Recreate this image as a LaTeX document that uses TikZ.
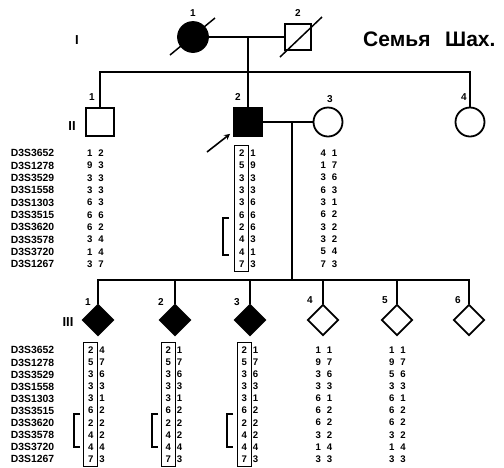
\documentclass[tikz,border=0pt]{standalone}
\usepackage{fontspec}
\setmainfont{Liberation Sans}
\usetikzlibrary{shapes.geometric,calc}
\newcommand{\al}[2]{#1\hspace{6pt}#2}
\begin{document}
\begin{tikzpicture}[x=1pt,y=-1pt,line width=1.8pt,
  male/.style={draw,rectangle,minimum size=28pt,inner sep=0pt},
  female/.style={draw,circle,minimum size=29pt,inner sep=0pt},
  sexunk/.style={draw,diamond,minimum size=31pt,inner sep=0pt},
  affected/.style={fill=black},
  gen/.style={font=\bfseries\fontsize{13}{13}\selectfont},
  num/.style={font=\bfseries\fontsize{10}{10}\selectfont},
  hap/.style={anchor=north,align=center,inner xsep=0pt,inner ysep=3pt,font=\bfseries\fontsize{9.6}{#1}\selectfont,execute at begin node={\rule{0pt}{7.2pt}}},
  markers/.style={anchor=north west,align=left,inner xsep=0pt,inner ysep=3pt,font=\bfseries\fontsize{10.4}{#1}\selectfont,execute at begin node={\rule{0pt}{7.2pt}}},
  hapbox/.style={line width=1.1pt},
  bracket/.style={line width=1.3pt},
  slash/.style={line width=1.5pt}]
\useasboundingbox (0,0) rectangle (504,467);
\node[anchor=west,font=\bfseries\fontsize{21}{21}\selectfont] (title) at (359,39) {Семья\hspace{0.7em}Шах.};
% generation I
\node[gen] (g1) at (77,40) {I};
\node[female,affected,minimum size=30pt] (i1) at (193,37) {};
\node[male,minimum size=26pt] (i2) at (298,37) {};
\node[num] (ni1) at (193,13) {1};
\node[num] (ni2) at (298,13) {2};
\draw[slash] ($(i1)+(-23,18)$) -- ($(i1)+(22,-19)$);
\draw[slash] ($(i2)+(-18,20)$) -- ($(i2)+(24,-20)$);
\draw (i1) -- (i2);
\coordinate (m1) at (248,37);
\coordinate (s1) at (248,72);
\coordinate (s1l) at (100,72);
\coordinate (s1r) at (470,72);
\draw (m1) -- (s1);
% generation II
\node[gen] (g2) at (72,126) {II};
\node[male] (ii1) at (100,122) {};
\node[male,affected] (ii2) at (248,122) {};
\node[female] (ii3) at (328,122) {};
\node[female] (ii4) at (470,122) {};
\node[num] (nii1) at (92,97) {1};
\node[num] (nii2) at (238,97) {2};
\node[num] (nii3) at (330,99) {3};
\node[num] (nii4) at (464,97) {4};
\draw (ii1.north) -- (s1l) -- (s1r) -- (ii4.north);
\draw (s1) -- (ii2.north);
\draw (ii2) -- (ii3);
\draw[->,>=stealth,line width=1.6pt] (207,152) -- ($(ii2.south west)+(-3,-3)$);
\coordinate (m2) at (292,122);
\coordinate (s2) at (292,280);
\coordinate (s2l) at (98,280);
\coordinate (s2r) at (469,280);
\draw (m2) -- (s2);
\node[markers=12.33] (mkII) at (10,145.8) {D3S3652\\D3S1278\\D3S3529\\D3S1558\\D3S1303\\D3S3515\\D3S3620\\D3S3578\\D3S3720\\D3S1267};
\node[hap=12.33] (h21) at (95.5,145.8) {\al12\\\al93\\\al33\\\al33\\\al63\\\al66\\\al62\\\al34\\\al14\\\al37};
\node[hap=12.33] (h22) at (247.5,145.8) {\al21\\\al59\\\al33\\\al33\\\al36\\\al66\\\al26\\\al43\\\al41\\\al73};
\node[hap=12.33] (h23) at (329,145.8) {\al41\\\al17\\\al36\\\al63\\\al31\\\al62\\\al32\\\al32\\\al54\\\al73};
\draw[hapbox] ($(h22.north)+(-12.6,0)$) rectangle ($(h22.south)+(1.4,0)$);
\draw[bracket] (229,218) -| (223,255) -- (229,255);
% generation III
\node[gen] (g3) at (68,322) {III};
\node[sexunk,affected] (iii1) at (98,320) {};
\node[sexunk,affected] (iii2) at (175,320) {};
\node[sexunk,affected] (iii3) at (250,320) {};
\node[sexunk] (iii4) at (323,320) {};
\node[sexunk] (iii5) at (397,320) {};
\node[sexunk] (iii6) at (469,320) {};
\node[num] (niii1) at (88,302) {1};
\node[num] (niii2) at (161,302) {2};
\node[num] (niii3) at (237,302) {3};
\node[num] (niii4) at (310,300) {4};
\node[num] (niii5) at (385,300) {5};
\node[num] (niii6) at (458,300) {6};
\draw (iii1.north) -- (s2l) -- (s2r) -- (iii6.north);
\draw (iii2.north) -- (iii2.north |- s2);
\draw (iii3.north) -- (iii3.north |- s2);
\draw (iii4.north) -- (iii4.north |- s2);
\draw (iii5.north) -- (iii5.north |- s2);
\node[markers=12.1] (mkIII) at (10,342.8) {D3S3652\\D3S1278\\D3S3529\\D3S1558\\D3S1303\\D3S3515\\D3S3620\\D3S3578\\D3S3720\\D3S1267};
\node[hap=12.1] (h31) at (96.5,342.8) {\al24\\\al57\\\al36\\\al33\\\al31\\\al62\\\al22\\\al42\\\al44\\\al73};
\node[hap=12.1] (h32) at (174,342.8) {\al21\\\al57\\\al36\\\al33\\\al31\\\al62\\\al22\\\al42\\\al44\\\al73};
\node[hap=12.1] (h33) at (250,342.8) {\al21\\\al57\\\al36\\\al33\\\al31\\\al62\\\al22\\\al42\\\al44\\\al73};
\node[hap=12.1] (h34) at (324,342.8) {\al11\\\al97\\\al36\\\al33\\\al61\\\al62\\\al62\\\al32\\\al14\\\al33};
\node[hap=12.1] (h35) at (397.5,342.8) {\al11\\\al97\\\al56\\\al33\\\al61\\\al62\\\al62\\\al32\\\al14\\\al33};
\draw[hapbox] ($(h31.north)+(-12.6,0)$) rectangle ($(h31.south)+(1.4,0)$);
\draw[hapbox] ($(h32.north)+(-12.6,0)$) rectangle ($(h32.south)+(1.4,0)$);
\draw[hapbox] ($(h33.north)+(-12.6,0)$) rectangle ($(h33.south)+(1.4,0)$);
\draw[bracket] (80,414) -| (74,447) -- (80,447);
\draw[bracket] (158,414) -| (152,447) -- (158,447);
\draw[bracket] (233,414) -| (227,447) -- (233,447);
\end{tikzpicture}
\end{document}
